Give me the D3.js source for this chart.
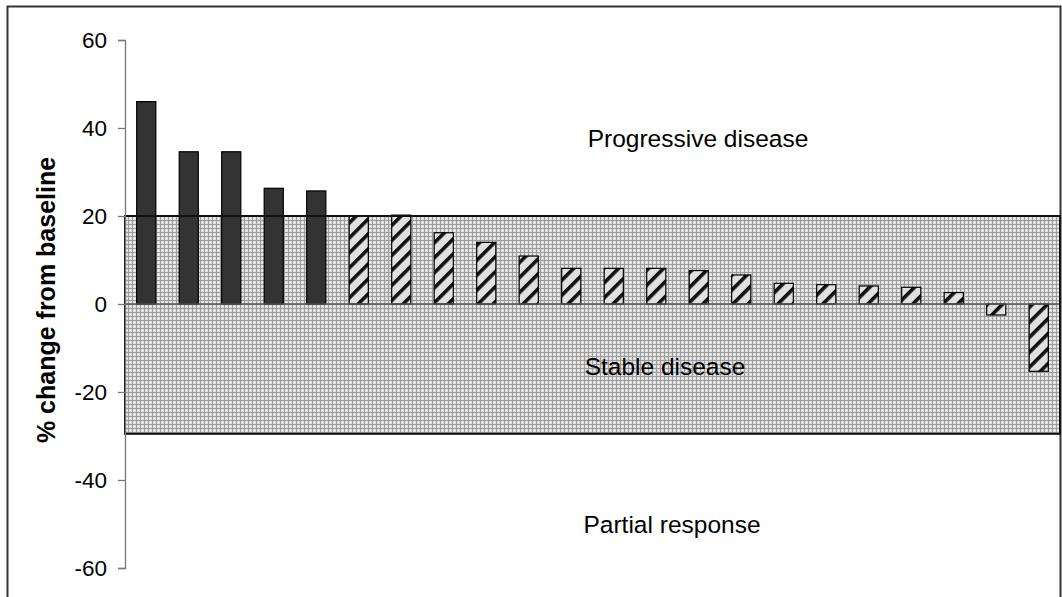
<!DOCTYPE html>
<html>
<head>
<meta charset="utf-8">
<script src="https://cdn.jsdelivr.net/npm/d3@7"></script>
<style>
  html, body { margin: 0; padding: 0; background: #fff; }
  svg { display: block; }
  text { font-family: "Liberation Sans", Arial, sans-serif; fill: #000; }
</style>
</head>
<body>
<svg id="chart" width="1062" height="597"></svg>
<script>
// ---- Data ----
const categories = ["1","2","3","4","5","6","7","8","9","10","11","12","13","14","15","16","17","18","19","20","21","22"];
const values = [46.0, 34.6, 34.6, 26.3, 25.7, 20.0, 20.2, 16.2, 14.0, 10.9, 8.1, 8.1, 8.1, 7.6, 6.6, 4.7, 4.4, 4.1, 3.8, 2.6, -2.5, -15.3];
const groups = ["PD","PD","PD","PD","PD","SD","SD","SD","SD","SD","SD","SD","SD","SD","SD","SD","SD","SD","SD","SD","SD","SD"];
const yTicks = [-60, -40, -20, 0, 20, 40, 60];
const zoneUpper = 20;      // progressive disease threshold
const zoneLower = -29.5;   // partial response threshold
const zoneLabels = ["Progressive disease", "Stable disease", "Partial response"];
const zoneLabelValues = [35.7, -16.1, -52.0];
const yTitle = "% change from baseline";

// ---- Layout ----
const svg = d3.select("#chart");
const plotLeft = 125, plotRight = 1060, plotTop = 40, plotBottom = 568;

const x = d3.scaleBand().domain(categories).range([plotLeft, plotRight])
  .paddingInner(0.55).paddingOuter(0.275);
const y = d3.scaleLinear().domain([-60, 60]).range([plotBottom, plotTop]);

// ---- Patterns ----
const defs = svg.append("defs");
const grid = defs.append("pattern").attr("id", "grid")
  .attr("patternUnits", "userSpaceOnUse").attr("width", 4).attr("height", 4);
grid.append("rect").attr("width", 4).attr("height", 4).attr("fill", "#dedede");
grid.append("rect").attr("x", 0).attr("y", 0).attr("width", 1).attr("height", 4).attr("fill", "#9c9c9c");
grid.append("rect").attr("x", 0).attr("y", 0).attr("width", 4).attr("height", 1).attr("fill", "#9c9c9c");
grid.append("rect").attr("x", 2).attr("y", 2).attr("width", 1).attr("height", 1).attr("fill", "#ffffff");

const hatch = defs.append("pattern").attr("id", "hatch")
  .attr("patternUnits", "userSpaceOnUse").attr("width", 10.6).attr("height", 10.6)
  .attr("patternTransform", "rotate(45)");
hatch.append("rect").attr("width", 10.6).attr("height", 10.6).attr("fill", "#e0e0e0");
hatch.append("rect").attr("x", 0).attr("y", 0).attr("width", 3.6).attr("height", 10.6).attr("fill", "#111");

// ---- Outer frame ----
svg.append("rect").attr("x", 7.5).attr("y", 6.5).attr("width", 1053).attr("height", 620)
  .attr("fill", "none").attr("stroke", "#333").attr("stroke-width", 2);

// ---- Stable disease zone ----
svg.append("rect")
  .attr("x", plotLeft).attr("y", y(zoneUpper))
  .attr("width", plotRight - plotLeft).attr("height", y(zoneLower) - y(zoneUpper))
  .attr("fill", "url(#grid)");

// ---- Bars ----
svg.append("g").selectAll("rect").data(values).join("rect")
  .attr("x", (d, i) => x(categories[i]))
  .attr("width", x.bandwidth())
  .attr("y", d => y(Math.max(0, d)))
  .attr("height", d => Math.abs(y(d) - y(0)))
  .attr("fill", (d, i) => groups[i] === "PD" ? "#333333" : "url(#hatch)")
  .attr("stroke", "#000").attr("stroke-width", 1.2);

// ---- Zero line ----
svg.append("line")
  .attr("x1", plotLeft).attr("x2", plotRight).attr("y1", y(0)).attr("y2", y(0))
  .attr("stroke", "#555").attr("stroke-width", 1.5);

// ---- Zone border ----
svg.append("rect")
  .attr("x", plotLeft).attr("y", y(zoneUpper))
  .attr("width", plotRight - plotLeft).attr("height", y(zoneLower) - y(zoneUpper))
  .attr("fill", "none").attr("stroke", "#111").attr("stroke-width", 2);

// ---- Y axis ----
const yAxis = svg.append("g").attr("transform", `translate(${plotLeft},0)`)
  .call(d3.axisLeft(y).tickValues(yTicks).tickSize(7).tickPadding(11).tickFormat(d => String(d)));
yAxis.selectAll("path, line").attr("stroke", "#777").attr("stroke-width", 1.3);
yAxis.selectAll("text").attr("font-size", 22.5).attr("fill", "#000")
  .attr("font-family", "'Liberation Sans', Arial, sans-serif");

// ---- Y title ----
svg.append("text")
  .attr("transform", `translate(55,300) rotate(-90)`)
  .attr("text-anchor", "middle")
  .attr("font-size", 25).attr("font-weight", "bold")
  .text(yTitle);

// ---- Zone labels ----
const labelX = [698, 665, 672];
svg.append("g").selectAll("text").data(zoneLabels).join("text")
  .attr("x", (d, i) => labelX[i])
  .attr("y", (d, i) => y(zoneLabelValues[i]))
  .attr("text-anchor", "middle")
  .attr("font-size", 24.5)
  .text(d => d);
</script>
</body>
</html>
